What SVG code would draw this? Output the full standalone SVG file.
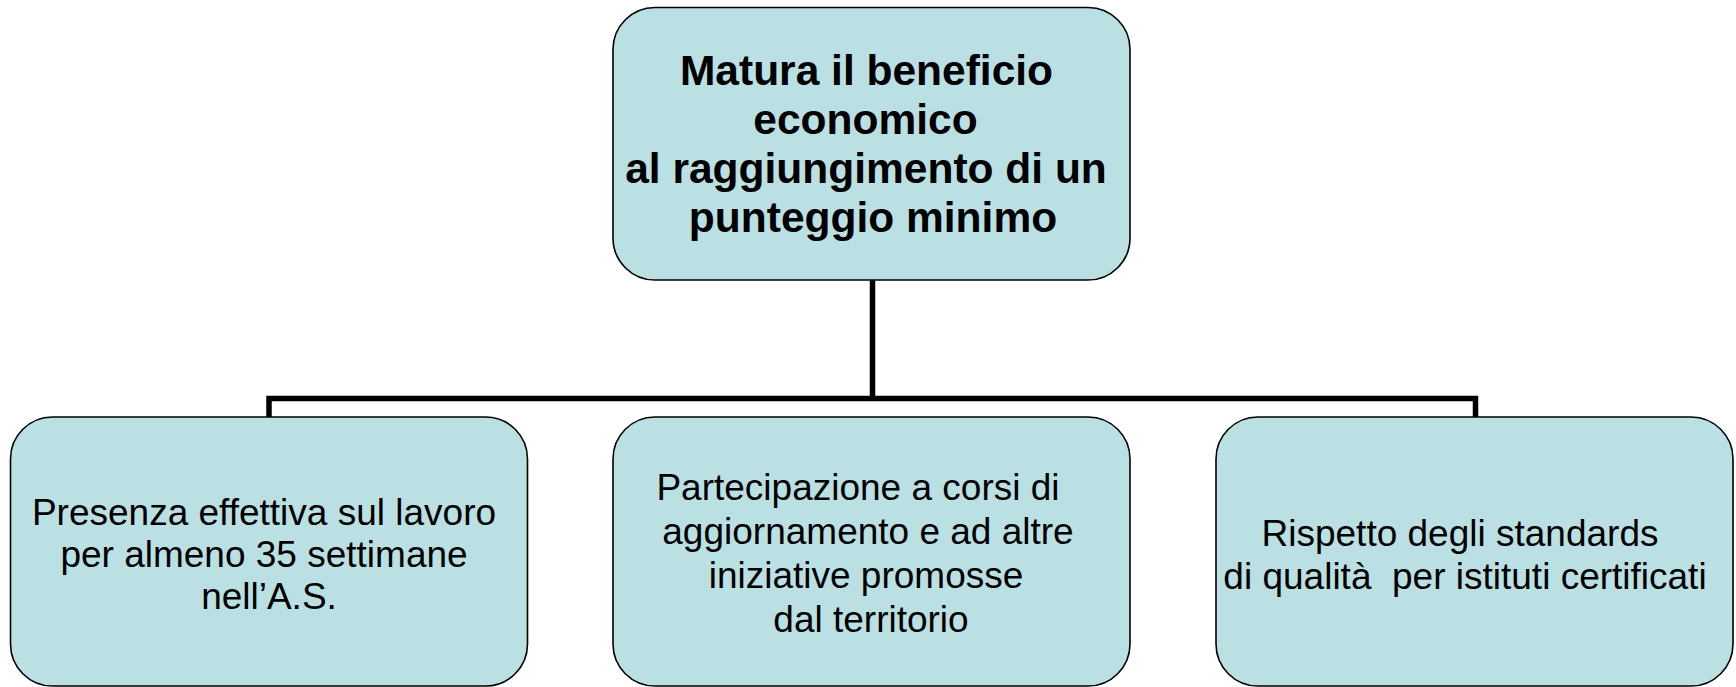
<svg xmlns="http://www.w3.org/2000/svg" width="1736" height="687" viewBox="0 0 1736 687">
<style>
.box{fill:#BAE0E3;stroke:#000;stroke-width:1.6}
.t{font-family:"Liberation Sans",Arial,sans-serif;fill:#000;text-anchor:middle}
.b{font-size:42.5px;font-weight:bold}
.n{font-size:37px}
.conn{fill:none;stroke:#000;stroke-width:5.5;stroke-linejoin:miter}
</style>
<rect width="1736" height="687" fill="#fff"/>
<g id="connectors">
<path class="conn" d="M872.5 280 V398.5"/>
<path class="conn" d="M269 417 V398.5 H1475.5 V417"/>
</g>
<g id="node-top">
<rect class="box" x="613" y="7.5" width="517" height="272.5" rx="42" ry="42"/>
<text class="t b" x="866.5" y="85">Matura il beneficio</text>
<text class="t b" x="865.5" y="134">economico</text>
<text class="t b" x="866" y="183">al raggiungimento di un</text>
<text class="t b" x="873" y="232">punteggio minimo</text>
</g>
<g id="node-left">
<rect class="box" x="10.5" y="417" width="517" height="269" rx="42" ry="42"/>
<text class="t n" x="264" y="525">Presenza effettiva sul lavoro</text>
<text class="t n" x="264" y="567">per almeno 35 settimane</text>
<text class="t n" x="269" y="609">nell’A.S.</text>
</g>
<g id="node-middle">
<rect class="box" x="613" y="417" width="517" height="269" rx="42" ry="42"/>
<text class="t n" x="858" y="500">Partecipazione a corsi di</text>
<text class="t n" x="868" y="544">aggiornamento e ad altre</text>
<text class="t n" x="866" y="588">iniziative promosse</text>
<text class="t n" x="871" y="632">dal territorio</text>
</g>
<g id="node-right">
<rect class="box" x="1216" y="417" width="517" height="269" rx="42" ry="42"/>
<text class="t n" x="1460" y="546">Rispetto degli standards</text>
<text class="t n" x="1465" y="589" xml:space="preserve">di qualità  per istituti certificati</text>
</g>
</svg>
